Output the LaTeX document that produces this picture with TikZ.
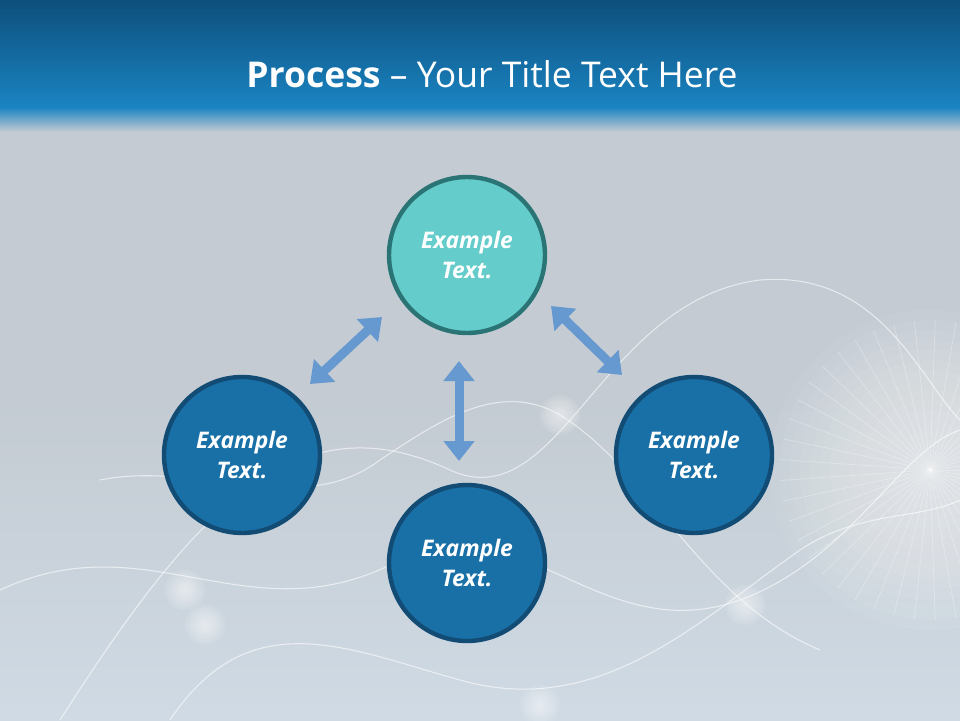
\documentclass[tikz,border=0pt]{standalone}
\usepackage{fontspec}
\setmainfont{Open Sans}
\usetikzlibrary{arrows.meta,shadings}
\definecolor{bg}{HTML}{C4CBD2}
\definecolor{bgB}{HTML}{CFDAE4}
\definecolor{hdA}{HTML}{0E4F7C}
\definecolor{hdB}{HTML}{1A84C2}
\definecolor{tealF}{HTML}{64CCCA}
\definecolor{tealB}{HTML}{2A7476}
\definecolor{blueF}{HTML}{1970A7}
\definecolor{blueB}{HTML}{124C74}
\definecolor{arr}{HTML}{6699D0}
\tikzset{
 circ/.style={circle,minimum size=3.12cm,line width=2.5pt,text=white,align=center,font=\bfseries\itshape\fontsize{13}{17}\selectfont},
 tc/.style={circ,fill=tealF,draw=tealB},
 bc/.style={circ,fill=blueF,draw=blueB},
 darr/.style={line width=0.18cm,arr,{Triangle[width=0.6cm,length=0.4cm]}-{Triangle[width=0.6cm,length=0.4cm]}},
 wave/.style={white,opacity=0.6,line width=0.6pt}
}
\begin{document}
\begin{tikzpicture}[x=0.02cm,y=-0.02cm]
\useasboundingbox (0,0) rectangle (960,720);
\fill[bg] (0,0) rectangle (960,720);
\shade[top color=bg,bottom color=bgB] (0,400) rectangle (960,720);
\foreach \r in {160,150,...,10}{\fill[white,opacity=0.05] (930,470) circle (\r);}
\foreach \a in {0,8,...,352}{\draw[white,opacity=0.3,line width=0.4pt] (930,470) -- ++(\a:150);}
\draw[wave] (0,590) .. controls (150,520) and (250,640) .. (400,560) .. controls (520,500) and (600,650) .. (740,600) .. controls (850,560) and (900,450) .. (960,430);
\draw[wave] (60,720) .. controls (200,500) and (300,400) .. (450,470) .. controls (560,520) and (600,300) .. (760,280) .. controls (880,270) and (920,380) .. (960,420);
\draw[wave] (100,480) .. controls (200,460) and (300,520) .. (380,460) .. controls (440,420) and (500,380) .. (560,415) .. controls (650,470) and (700,600) .. (820,650);
\draw[wave] (170,720) .. controls (250,600) and (350,650) .. (460,680) .. controls (600,720) and (700,620) .. (800,550) .. controls (860,510) and (920,520) .. (960,500);
\foreach \p in {(560,415),(205,625),(745,605),(540,705),(185,590)}{\foreach \r in {20,17,...,2}{\fill[white,opacity=0.1] \p circle (\r);}}
\shade[top color=hdA,bottom color=hdB] (0,0) rectangle (960,108);
\shade[top color=hdB,bottom color=bg] (0,107) rectangle (960,132);
\node[text=white,font=\fontsize{20.2}{25}\selectfont] (title) at (492,74) {\textbf{Process} – Your Title Text Here};
\node[tc] (top) at (467,255) {Example\\Text.};
\node[bc] (left) at (242,455) {Example\\Text.};
\node[bc] (right) at (694,455) {Example\\Text.};
\node[bc] (bot) at (467,563) {Example\\Text.};
\coordinate (l1) at (310,384); \coordinate (l2) at (382,317);
\coordinate (r1) at (551,306); \coordinate (r2) at (622,375);
\coordinate (v1) at (459,361); \coordinate (v2) at (459,461);
\draw[darr] (l1) -- (l2);
\draw[darr] (r1) -- (r2);
\draw[darr] (v1) -- (v2);
\end{tikzpicture}
\end{document}
